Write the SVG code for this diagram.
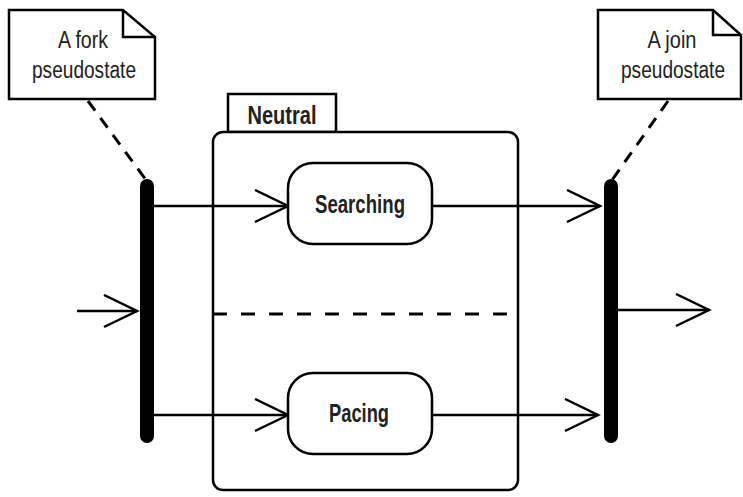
<svg xmlns="http://www.w3.org/2000/svg" width="743" height="497" viewBox="0 0 743 497">
<defs>
<style>
.ln{fill:none;stroke:#000;stroke-width:2.5}
.dash{fill:none;stroke:#000;stroke-width:3;stroke-dasharray:12 9}
.sep{fill:none;stroke:#000;stroke-width:3;stroke-dasharray:14 14}
.box{fill:#fff;stroke:#000;stroke-width:2.5}
.bar{stroke:#000;stroke-width:14;stroke-linecap:round}
.t{font-family:"Liberation Sans",Arial,sans-serif;font-size:23px;fill:#222;text-anchor:middle}
.b{font-weight:bold;font-size:25px}
</style>
<marker id="open" markerUnits="userSpaceOnUse" markerWidth="40" markerHeight="40" refX="34" refY="17" orient="auto">
<path d="M1,1 L34,17 L1,33" fill="none" stroke="#000" stroke-width="2.5"/>
</marker>
</defs>
<rect width="743" height="497" fill="#fff"/>

<g id="neutral">
<rect x="228" y="94" width="108" height="38" class="box"/>
<text x="282" y="124" class="t b" textLength="69" lengthAdjust="spacingAndGlyphs">Neutral</text>
<rect x="213" y="132" width="305" height="358" rx="10" class="box"/>
<line x1="213" y1="314" x2="507" y2="314" class="sep"/>
</g>

<g id="connectors">
<line x1="88" y1="101" x2="146" y2="180" class="dash"/>
<line x1="668" y1="101" x2="612" y2="180" class="dash"/>
<line x1="77" y1="311" x2="137" y2="311" class="ln" marker-end="url(#open)"/>
<line x1="150" y1="206" x2="288" y2="206" class="ln" marker-end="url(#open)"/>
<line x1="150" y1="415" x2="288" y2="415" class="ln" marker-end="url(#open)"/>
<line x1="432" y1="206" x2="600" y2="206" class="ln" marker-end="url(#open)"/>
<line x1="432" y1="415" x2="598" y2="415" class="ln" marker-end="url(#open)"/>
<line x1="612" y1="310" x2="709" y2="310" class="ln" marker-end="url(#open)"/>
</g>

<g id="fork">
<line x1="147" y1="186" x2="147" y2="436" class="bar"/>
</g>
<g id="join">
<line x1="611" y1="186" x2="611" y2="436" class="bar"/>
</g>

<g id="searching">
<rect x="288" y="163" width="144" height="81" rx="25" class="box"/>
<text x="360" y="213" class="t b" textLength="90" lengthAdjust="spacingAndGlyphs">Searching</text>
</g>
<g id="pacing">
<rect x="288" y="373" width="144" height="81" rx="25" class="box"/>
<text x="359" y="422" class="t b" textLength="60" lengthAdjust="spacingAndGlyphs">Pacing</text>
</g>

<g id="forkNote">
<path d="M9,10 H123 L155,37 V99 H9 Z" class="box"/>
<path d="M123,10 V37 H155" class="ln"/>
<text x="83" y="48" class="t" textLength="50" lengthAdjust="spacingAndGlyphs">A fork</text>
<text x="84" y="78" class="t" textLength="104" lengthAdjust="spacingAndGlyphs">pseudostate</text>
</g>
<g id="joinNote">
<path d="M598,10 H713 L741,35 V99 H598 Z" class="box"/>
<path d="M713,10 V35 H741" class="ln"/>
<text x="672" y="48" class="t" textLength="49" lengthAdjust="spacingAndGlyphs">A join</text>
<text x="673" y="78" class="t" textLength="104" lengthAdjust="spacingAndGlyphs">pseudostate</text>
</g>
</svg>
